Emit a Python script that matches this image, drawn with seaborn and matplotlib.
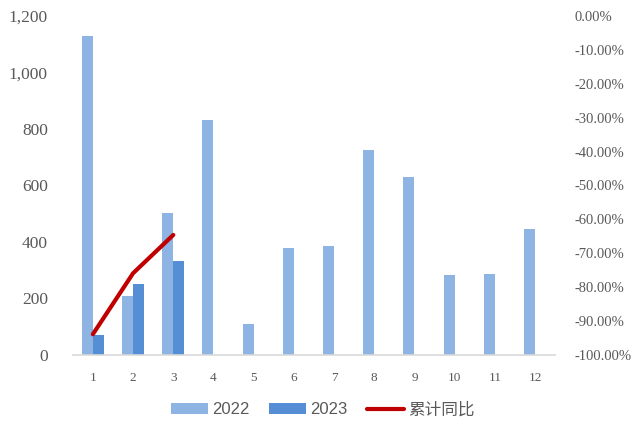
import numpy as np
import pandas as pd
import matplotlib
matplotlib.use("Agg")
import matplotlib.pyplot as plt
import seaborn as sns
from matplotlib.patches import Patch
from matplotlib.lines import Line2D
from matplotlib.ticker import FuncFormatter, MultipleLocator

months = ["1", "2", "3", "4", "5", "6", "7", "8", "9", "10", "11", "12"]
v2022 = [1130, 210, 502, 832, 110, 379, 386, 725, 630, 282, 286, 445]
v2023 = [71, 250, 332]
yoy = [-0.939, -0.759, -0.646]
series_names = ["2022", "2023", "累计同比"]

c2022 = "#8EB4E3"
c2023 = "#558ED5"
cred = "#C00000"
tcol = "#595959"

sns.set_theme(style="white")
plt.rcParams["font.family"] = ["Liberation Serif", "Noto Sans CJK SC"]

rows = []
for m, v in zip(months, v2022):
    rows.append({"month": m, "year": series_names[0], "value": v})
for m, v in zip(months, v2023 + [np.nan] * (len(months) - len(v2023))):
    rows.append({"month": m, "year": series_names[1], "value": v})
df = pd.DataFrame(rows)

fig = plt.figure(figsize=(6.33, 4.21), dpi=100)
ax = fig.add_axes([0.115, 0.157, 0.762, 0.805])
sns.barplot(data=df, x="month", y="value", hue="year", order=months,
            hue_order=series_names[:2], palette=[c2022, c2023],
            width=0.55, saturation=1, ax=ax, legend=False, errorbar=None,
            linewidth=0, edgecolor="none")
ax.set_ylim(0, 1200)
ax.yaxis.set_major_locator(MultipleLocator(200))
ax.yaxis.set_major_formatter(FuncFormatter(lambda v, p: f"{int(v):,}"))
ax.set_xlabel("")
ax.set_ylabel("")
for s in ["top", "right", "left"]:
    ax.spines[s].set_visible(False)
ax.spines["bottom"].set_color("#D9D9D9")
ax.spines["bottom"].set_linewidth(1.2)
ax.tick_params(axis="y", length=0, pad=18, labelsize=12.5, labelcolor=tcol)
ax.tick_params(axis="x", length=0, pad=12, labelsize=9.5, labelcolor=tcol)

ax2 = ax.twinx()
df_line = pd.DataFrame({"pos": np.arange(len(yoy)), "yoy": yoy})
sns.lineplot(data=df_line, x="pos", y="yoy", color=cred, linewidth=3,
             ax=ax2, solid_capstyle="round")
ax2.set_ylim(-1.0, 0.0)
ax2.yaxis.set_major_locator(MultipleLocator(0.1))
ax2.yaxis.set_major_formatter(FuncFormatter(lambda v, p: f"{v*100:.2f}%"))
ax.set_xlim(-0.5, len(months) - 0.5)
ax2.set_xlim(-0.5, len(months) - 0.5)
ax2.set_ylabel("")
ax2.set_xlabel("")
for s in ["top", "right", "left", "bottom"]:
    ax2.spines[s].set_visible(False)
ax2.tick_params(axis="y", length=0, pad=14, labelsize=10.5, labelcolor=tcol)

handles = [Patch(facecolor=c2022, edgecolor="none"),
           Patch(facecolor=c2023, edgecolor="none"),
           Line2D([0], [0], color=cred, linewidth=3, solid_capstyle="round")]
fig.legend(handles, series_names, loc="center", bbox_to_anchor=(0.51, 0.027),
           ncol=3, frameon=False, handlelength=2.2, handleheight=0.66,
           handletextpad=0.25, columnspacing=1.2,
           prop={"family": ["Liberation Sans", "Noto Sans CJK SC"], "size": 12},
           labelcolor=tcol)

fig.savefig("out.png", dpi=100)
